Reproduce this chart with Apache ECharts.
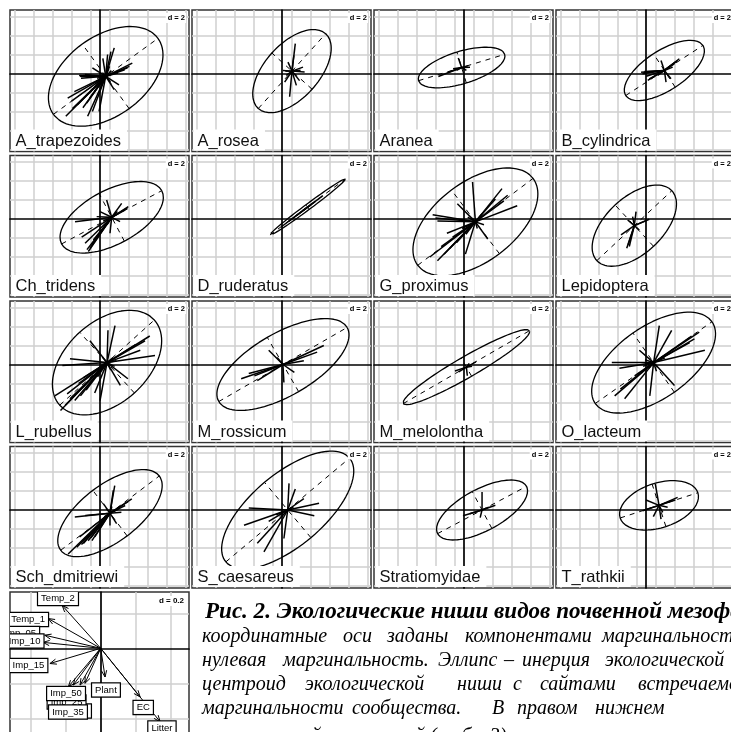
<!DOCTYPE html>
<html><head><meta charset="utf-8">
<script src="https://cdn.jsdelivr.net/npm/echarts@6/dist/echarts.min.js"></script>
<style>html,body{margin:0;padding:0;background:#fff;}#c{width:731px;height:732px;}</style>
</head><body><div id="c"></div>
<script>
// ---------- data ----------
const species = ['A_trapezoides','A_rosea','Aranea','B_cylindrica','Ch_tridens','D_ruderatus','G_proximus','Lepidoptera','L_rubellus','M_rossicum','M_melolontha','O_lacteum','Sch_dmitriewi','S_caesareus','Stratiomyidae','T_rathkii'];
const centroids = [[0.6,-0.3],[1.05,0.25],[-0.25,0.63],[1.93,0.32],[1.23,0.18],[2.7,1.26],[1.2,-0.3],[-1.23,-0.7],[0.74,0.2],[0.1,0],[0.25,-0.28],[0.8,0.2],[1.05,-0.33],[0.6,0.0],[1.9,0.0],[1.37,0.49]];
const ellipseAxes = [[6.8,4.2],[5.3,2.85],[4.74,1.7],[4.84,2.1],[5.97,2.85],[4.94,0.3],[7.6,4.2],[5.4,2.97],[6.7,4.3],[7.8,3.3],[7.67,1.1],[7.5,3.8],[6.5,3.0],[8.5,3.8],[5.3,2.2],[4.3,2.35]];
const ellipseAngles = [36,48,17,33,28,36.6,37,43,42,30,30,35,37,40,28,18];

const rays_A_trapezoides = [[-4.2,-4.2],[-3.6,-2.6],[-4.0,-2.3],[-2.4,-3.3],[-1.9,-4.2],[-1.4,-3.7],[-2.8,0.1],[-2.6,-0.2],[-2.2,0.2],[-2.7,0],[-2.4,0.1],[0.9,3.0],[0.55,2.6],[0.2,2.3],[2.8,1.4],[2.5,1.05],[2.0,0.7],[2.3,0.9],[1.4,-0.9],[0.9,-1.4],[-0.7,-3.7],[0.4,1.05],[-1.0,-0.5],[-3.3,-1.6],[-1.7,-2.3],[1.3,0.35],[-0.3,1.9],[-1.4,0.9],[0.8,0.3],[-0.6,0.4],[0.5,-0.6],[-0.9,-0.2],[0.3,0.8],[-3.0,-3.0],[-2.0,-2.8],[-3.5,-3.4],[-1.2,-1.6],[-0.8,-1.1],[0.6,0.6],[-0.5,-0.9]];
const rays_A_rosea = [[0.35,2.9],[-0.25,-2.7],[-0.77,-1.16],[1.16,0.42],[0.8,-1.0],[-0.42,0.95],[1.33,-0.1],[-0.95,0.07],[0.46,-1.5],[0.2,1.65],[-0.6,-0.45],[0.9,0.1],[-0.7,0.0]];
const rays_Aranea = [[-2.45,-0.95],[-1.4,-0.5],[-0.35,1.0],[0.7,0.2],[0.5,-0.3],[0.88,0.03],[-0.53,-0.3],[-0.9,-0.14]];
const rays_B_cylindrica = [[-2.45,-0.18],[-2.3,-0.35],[-1.75,-1.05],[-1.58,-0.88],[1.4,1.05],[1.58,1.23],[1.05,0.7],[0.88,0.35],[-0.35,1.05],[0.18,-1.23],[0.7,-0.88],[-0.7,-0.53],[-2.1,-0.1],[-1.9,-0.6],[1.2,0.9],[-2.2,-0.25]];
const rays_Ch_tridens = [[-2.46,-3.6],[-2.28,-3.26],[-2.8,-2.74],[-3.16,-2.1],[-1.93,-2.39],[-3.86,-0.46],[1.75,1.12],[1.4,0.77],[1.05,1.47],[-0.53,1.82],[0.88,-0.46],[-0.18,-1.68],[-1.23,0.6],[-1.58,0.07],[0.35,0.25],[-2.6,-3.4],[-2.1,-2.9],[1.6,0.95],[-0.9,-0.4],[0.6,0.6],[-0.5,-0.8]];
const rays_D_ruderatus = [[-2.8,-2.1],[-2.0,-1.5],[-1.2,-0.9],[-0.5,-0.35],[0.4,0.3],[0.8,0.6],[1.6,1.2]];
const rays_G_proximus = [[-4.8,-3.7],[-4.0,-4.1],[-3.3,-3.4],[-2.7,-2.8],[-4.5,0.74],[-4.0,0.1],[2.8,3.5],[3.4,2.8],[2.1,2.4],[-0.3,4.2],[4.4,1.7],[1.3,-1.8],[-1.05,-3.4],[-1.9,1.9],[0.7,0.85],[-1.4,-0.7],[-2.4,-1.6],[0.5,0.3],[-0.6,-0.4],[0.2,-0.7],[-0.8,0.5],[-3.6,-2.6],[-3.0,-1.2],[-4.2,0.4],[3.0,2.2],[-1.0,-1.3],[0.9,-0.3],[-2.0,-2.2]];
const rays_Lepidoptera = [[0.18,1.47],[-0.8,-2.39],[-0.53,-2.2],[-1.4,-0.98],[1.58,0.67],[1.23,0.53],[-0.7,0.6],[0.53,-0.46],[-0.18,0.95],[-0.65,-2.0]];
const rays_L_rubellus = [[-4.9,-5.05],[-4.4,-4.5],[-3.9,-3.8],[-3.4,-4.0],[-2.8,-3.5],[-5.5,-3.5],[-4.7,-0.3],[-3.9,0.4],[0.1,3.4],[0.84,3.9],[4.5,2.8],[4.0,2.3],[3.5,1.3],[5.05,0.74],[-0.74,-4.0],[-1.3,-3.2],[1.4,-2.4],[2.2,-1.7],[-1.8,2.3],[0.6,0.5],[-0.7,-0.3],[0.4,-0.8],[-0.5,0.6],[1.0,0.2],[-3.0,-2.2],[-2.2,-2.9],[-4.2,-3.3],[3.0,1.9],[-1.0,-1.5],[0.8,-0.4],[-2.5,-1.6]];
const rays_M_rossicum = [[-4.4,-1.5],[-3.6,-0.95],[-2.7,-1.7],[4.3,2.0],[3.6,1.3],[2.2,0.4],[-1.5,1.5],[0.1,-1.9],[1.2,-0.84],[-0.6,0.74],[-3.0,-1.2]];
const rays_M_melolontha = [[1.0,0.55],[-0.8,-0.5],[0.3,0.4],[0.1,-0.9],[-1.2,-0.4],[0.6,0.1]];
const rays_O_lacteum = [[4.8,3.2],[4.3,2.5],[3.8,2.1],[5.4,1.3],[0.6,3.9],[1.9,3.4],[-4.4,0],[-3.6,-0.6],[-4.1,-3.5],[-3.05,-3.8],[-0.4,-3.5],[2.2,-2.4],[-1.5,1.3],[-2.0,-1.4],[0.7,0.4],[-0.5,-0.6],[0.3,-0.9],[-0.9,0.3],[4.0,2.8],[-3.5,-2.8],[1.2,0.5],[-1.1,-0.4]];
const rays_Sch_dmitriewi = [[-4.4,-4.3],[-3.5,-3.6],[-2.8,-3.2],[-2.3,-2.9],[-1.9,-2.9],[-1.6,-2.5],[-3.2,-2.5],[-2.6,-0.25],[-3.7,-0.4],[0.5,2.9],[0.35,2.4],[2.3,1.5],[1.9,1.2],[1.6,0.8],[1.2,0.1],[0,-1.3],[0.7,-1.1],[-0.7,1.0],[0.5,0.3],[-0.6,-0.4],[0.2,0.7],[-0.4,0.5],[-3.0,-3.3],[-2.0,-2.6],[-1.0,-0.8],[0.9,0.4]];
const rays_S_caesareus = [[-4.6,-1.6],[-4.1,0.2],[-3.2,-3.5],[-2.5,-4.4],[0.14,2.8],[0.8,2.2],[3.3,0.7],[2.8,-0.6],[-0.4,-3.0],[-2.0,-1.2],[1.7,1.2],[-1.2,-0.5],[0.6,0.3]];
const rays_Stratiomyidae = [[-1.3,-0.4],[1.4,0.5],[0.0,1.9],[-0.2,-0.8],[0.7,0.3],[-2.0,-0.6]];
const rays_T_rathkii = [[-0.39,2.25],[0.21,-1.44],[-1.72,-0.56],[-1.54,-0.49],[1.96,0.84],[1.72,0.56],[-1.37,0.56],[-0.6,-1.19],[0.91,-0.21],[0.39,-0.74],[1.4,0.5]];
const raySets = [rays_A_trapezoides,rays_A_rosea,rays_Aranea,rays_B_cylindrica,rays_Ch_tridens,rays_D_ruderatus,rays_G_proximus,rays_Lepidoptera,rays_L_rubellus,rays_M_rossicum,rays_M_melolontha,rays_O_lacteum,rays_Sch_dmitriewi,rays_S_caesareus,rays_Stratiomyidae,rays_T_rathkii];

const panelGridX = [-9,-7,-5,-3,-1,1,3,5,7,9];
const panelGridY = [-8,-6,-4,-2,2,4,6];
const panelScaleLabel = 'd = 2';

const arrowNames = ['Temp_2','Temp_1','Imp_05','Imp_10','Imp_15','Imp_45','Imp_25','Imp_35','Imp_50','Plant','EC','Litter'];
const arrowX = [-0.22,-0.30,-0.32,-0.33,-0.29,-0.09,-0.157,-0.118,-0.185,0.025,0.225,0.34];
const arrowY = [0.245,0.17,0.075,0.034,-0.087,-0.2,-0.21,-0.21,-0.22,-0.164,-0.278,-0.42];
const labelX = [-0.244,-0.415,-0.46,-0.435,-0.413,-0.164,-0.195,-0.187,-0.198,0.03,0.243,0.35];
const labelY = [0.285,0.165,0.085,0.042,-0.098,-0.358,-0.307,-0.364,-0.258,-0.238,-0.338,-0.455];
const arrowGridX = [-0.4,-0.2,0.2,0.4];
const arrowGridY = [-0.4,-0.2,0.2];
const arrowScaleLabel = 'd = 0.2';

const captionTitle = 'Рис. 2. Экологические ниши видов почвенной мезофауны:';
const captionTitleHead = 'Рис. 2. Экологические ниши видов почвенной ';
const captionWords = [
  ['координатные','оси','заданы','компонентами','маргинальности;'],
  ['нулевая','маргинальность.','Эллипс','–','инерция','экологической'],
  ['центроид','экологической','ниши','с','сайтами','встречаемости'],
  ['маргинальности','сообщества.','В','правом','нижнем'],
  ['экологической переменной (табл. 3).']
];

// ---------- layout (pixels) ----------
const titleX = 205, titleHeadEnd = 668, titleBaseline = 619;
const captionWordX = [
  [202,343,387,465,602],
  [202,283,438,504,522,605],
  [202,305,457,513,540,638],
  [202,352,492,517,595],
  [202]
];
const captionBaseline = [643,667,691,715,743];
const PX = 9.5, panelW = 179, panelH = 141.5, pitchX = 182, pitchY = 145.5, left0 = 10, top0 = 10, oDX = 90, oDY = 63.5;
const AP = 175, aL = 10, aT = 592, aW = 179, aH = 150, aDX = 90.7, aDY = 56.3;
const serif = '"Liberation Serif", "Times New Roman", serif';

// ---------- helpers ----------
const mctx = document.createElement('canvas').getContext('2d');
function fitSize(text, style, target){
  mctx.font = style + ' 100px ' + serif;
  return 100 * target / mctx.measureText(text).width;
}
function ellipsePoints(c, ax, angDeg){
  const th = angDeg*Math.PI/180, ct=Math.cos(th), st=Math.sin(th), pts=[];
  for(let k=0;k<=96;k++){
    const t = k/96*2*Math.PI, u=ax[0]*Math.cos(t), v=ax[1]*Math.sin(t);
    pts.push([c[0]+u*ct-v*st, c[1]+u*st+v*ct]);
  }
  return pts;
}
function segRender(style){
  return function(params, api){
    const p0 = api.coord([api.value(0), api.value(1)]);
    const p1 = api.coord([api.value(2), api.value(3)]);
    return {type:'line', shape:{x1:p0[0],y1:p0[1],x2:p1[0],y2:p1[1]}, style:Object.assign({fill:null}, style)};
  };
}
function axisDef(i, min, max, custom){
  return {
    type:'value', gridIndex:i, min:min, max:max,
    axisLine:{show:true, onZero:true, lineStyle:{color:'#000', width:1.7}},
    axisTick:{show:false, customValues:custom},
    axisLabel:{show:false},
    splitLine:{show:true, lineStyle:{color:'#cfcfcf', width:1.5}}
  };
}

const grids=[], xAxes=[], yAxes=[], series=[], graphics=[];
species.forEach(function(name,i){
  const col=i%4, row=Math.floor(i/4);
  const L=left0+col*pitchX, T=top0+row*pitchY;
  grids.push({left:L, top:T, width:panelW, height:panelH, show:true, borderColor:'#333', borderWidth:1.5, backgroundColor:'#fff', containLabel:false, outerBoundsMode:'none'});
  xAxes.push(axisDef(i, -oDX/PX, (panelW-oDX)/PX, panelGridX));
  yAxes.push(axisDef(i, -(panelH-oDY)/PX, oDY/PX, panelGridY));
  const c=centroids[i], ax=ellipseAxes[i], th=ellipseAngles[i]*Math.PI/180;
  series.push({type:'line', xAxisIndex:i, yAxisIndex:i, data:ellipsePoints(c, ax, ellipseAngles[i]), symbol:'none', smooth:false, silent:true, clip:false, animation:false, lineStyle:{color:'#000', width:1.3}, z:3});
  const axesSeg=[
    [c[0]-ax[0]*Math.cos(th), c[1]-ax[0]*Math.sin(th), c[0]+ax[0]*Math.cos(th), c[1]+ax[0]*Math.sin(th)],
    [c[0]+ax[1]*Math.sin(th), c[1]-ax[1]*Math.cos(th), c[0]-ax[1]*Math.sin(th), c[1]+ax[1]*Math.cos(th)]
  ];
  series.push({type:'custom', xAxisIndex:i, yAxisIndex:i, data:axesSeg, encode:{x:[0,2], y:[1,3]}, silent:true, animation:false, z:3,
    renderItem:segRender({stroke:'#000', lineWidth:1, lineDash:[5,5]})});
  series.push({type:'custom', xAxisIndex:i, yAxisIndex:i, data:raySets[i].map(function(r){return [c[0],c[1],c[0]+r[0],c[1]+r[1]];}), encode:{x:[0,2], y:[1,3]}, silent:true, animation:false, z:4,
    renderItem:segRender({stroke:'#000', lineWidth:1.5})});
  graphics.push({type:'text', z:100, x:L+1.5, y:T+panelH-1, style:{text:name, font:'16.5px "Liberation Sans", Arial, sans-serif', fill:'#111', backgroundColor:'#fff', padding:[3,6,1,4], align:'left', verticalAlign:'bottom'}});
  graphics.push({type:'text', z:100, x:L+panelW-3, y:T+3, style:{text:panelScaleLabel, font:'bold 7.5px "Liberation Sans", Arial, sans-serif', fill:'#000', backgroundColor:'#fff', padding:[1,1,1,2], align:'right', verticalAlign:'top'}});
});

// arrows panel
const ai = species.length;
grids.push({left:aL, top:aT, width:aW, height:aH, show:true, borderColor:'#333', borderWidth:1.5, backgroundColor:'#fff', containLabel:false, outerBoundsMode:'none'});
xAxes.push(axisDef(ai, -aDX/AP, (aW-aDX)/AP, arrowGridX));
yAxes.push(axisDef(ai, -(aH-aDY)/AP, aDY/AP, arrowGridY));
series.push({type:'custom', xAxisIndex:ai, yAxisIndex:ai, clip:true, silent:true, animation:false, z:4,
  data:arrowX.map(function(x,k){return [x, arrowY[k]];}), encode:{x:0,y:1},
  renderItem:function(params, api){
    const o=api.coord([0,0]), p=api.coord([api.value(0), api.value(1)]);
    const ang=Math.atan2(p[1]-o[1], p[0]-o[0]), hl=7, ha=0.38;
    const h1=[p[0]-hl*Math.cos(ang-ha), p[1]-hl*Math.sin(ang-ha)];
    const h2=[p[0]-hl*Math.cos(ang+ha), p[1]-hl*Math.sin(ang+ha)];
    return {type:'group', children:[
      {type:'line', shape:{x1:o[0],y1:o[1],x2:p[0],y2:p[1]}, style:{stroke:'#000', lineWidth:1}},
      {type:'polyline', shape:{points:[h1,p,h2]}, style:{stroke:'#000', lineWidth:1, fill:null}}
    ]};
  }});
series.push({type:'custom', xAxisIndex:ai, yAxisIndex:ai, clip:true, silent:true, animation:false, z:5,
  data:labelX.map(function(x,k){return [x, labelY[k], k];}), encode:{x:0,y:1},
  renderItem:function(params, api){
    const p=api.coord([api.value(0), api.value(1)]);
    return {type:'text', x:p[0], y:p[1], style:{text:arrowNames[api.value(2)], font:'9.5px "Liberation Sans", Arial, sans-serif', fill:'#000', align:'center', verticalAlign:'middle', backgroundColor:'#fff', borderColor:'#000', borderWidth:1.2, padding:[2,3,1,3]}};
  }});
graphics.push({type:'text', z:100, x:aL+aW-4, y:aT+4, style:{text:arrowScaleLabel, font:'bold 8px "Liberation Sans", Arial, sans-serif', fill:'#000', backgroundColor:'#fff', padding:[1,1], align:'right', verticalAlign:'top'}});

// caption
const titleSize = fitSize(captionTitleHead, 'italic bold', titleHeadEnd - titleX);
graphics.push({type:'text', z:100, x:titleX, y:titleBaseline - 0.3*titleSize, style:{text:captionTitle, font:'italic bold ' + titleSize.toFixed(2) + 'px ' + serif, fill:'#000', align:'left', verticalAlign:'middle'}});
captionWords.forEach(function(words, li){
  const f = 'italic 20px ' + serif;
  words.forEach(function(w, wi){
    graphics.push({type:'text', z:100, x:captionWordX[li][wi], y:captionBaseline[li]-6.5, style:{text:w, font:f, fill:'#000', align:'left', verticalAlign:'middle'}});
  });
});

const chart = echarts.init(document.getElementById('c'), null, {renderer:'canvas'});
chart.setOption({animation:false, backgroundColor:'#fff', grid:grids, xAxis:xAxes, yAxis:yAxes, series:series, graphic:{elements:graphics}});
</script></body></html>
